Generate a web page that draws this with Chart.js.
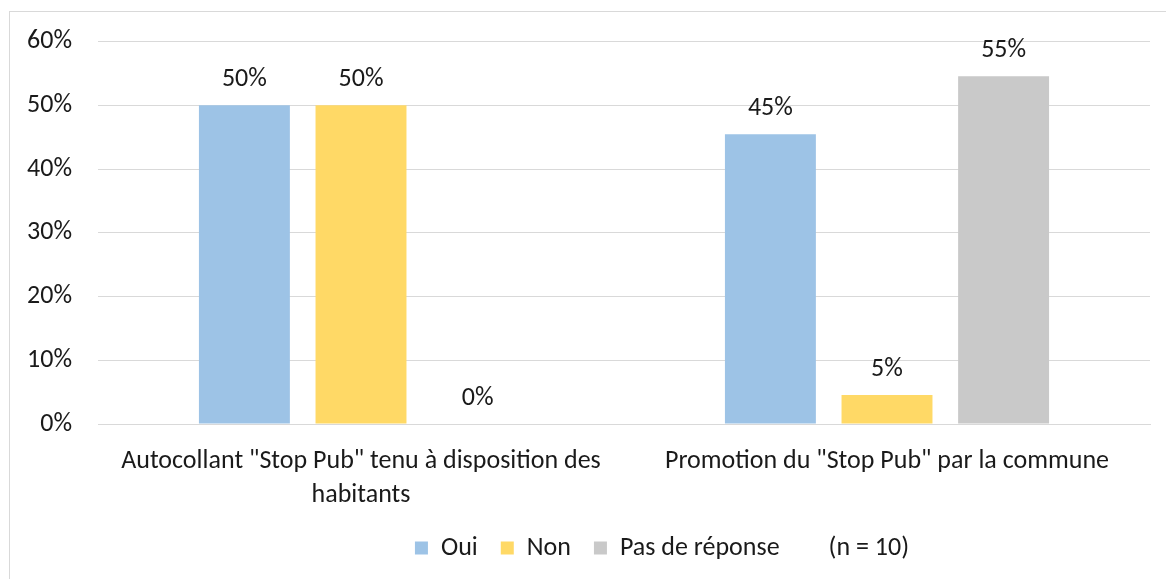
<!DOCTYPE html>
<html lang="fr">
<head>
<meta charset="utf-8">
<title>Stop Pub</title>
<script src="https://cdn.jsdelivr.net/npm/chart.js@4.4.1/dist/chart.umd.min.js"></script>
<style>
    html, body { margin: 0; padding: 0; background: #fff; overflow: hidden; }
    #frame {
        position: absolute; left: 9px; top: 11px; width: 1300px; height: 700px;
        border-left: 1px solid #d9d9d9; border-top: 1px solid #d9d9d9;
    }
    #wrap { position: absolute; left: 0; top: 0; width: 1166px; height: 579px; }
</style>
</head>
<body>
<div id="frame"></div>
<div id="wrap"><canvas id="chart"></canvas></div>
<script>
// values (percent)
const categories = [
    ['Autocollant "Stop Pub" tenu à disposition des', 'habitants'],
    'Promotion du "Stop Pub" par la commune'
];
const seriesNames = ['Oui', 'Non', 'Pas de réponse'];
const oui = [50, 45.45];
const non = [50, 4.55];
const pasDeReponse = [0, 54.55];
const colors = ['#9dc3e6', '#ffd966', '#c9c9c9'];
const yTicks = [0, 10, 20, 30, 40, 50, 60];
const sampleNote = '(n = 10)';

const FONT = 'Calibri, Carlito, "Open Sans", sans-serif';
const FONT_SIZE = 26;

// draws "50%" style labels above each bar
const barLabels = {
    id: 'barLabels',
    afterDatasetsDraw(chart) {
        const ctx = chart.ctx;
        ctx.save();
        ctx.font = FONT_SIZE + 'px ' + FONT;
        ctx.fillStyle = '#1a1a1a';
        ctx.textAlign = 'center';
        ctx.textBaseline = 'middle';
        chart.data.datasets.forEach((ds, i) => {
            const meta = chart.getDatasetMeta(i);
            meta.data.forEach((bar, j) => {
                ctx.fillText(Math.round(ds.data[j]) + '%', bar.x, bar.y - 26);
            });
        });
        ctx.restore();
    }
};

// the legend sits right of centre in the original
const legendShift = {
    id: 'legendShift',
    afterLayout(chart) {
        chart.legend.left += 87;
        chart.legend.right += 87;
    }
};

const seriesValues = [oui, non, pasDeReponse];

new Chart(document.getElementById('chart'), {
    type: 'bar',
    data: {
        labels: categories,
        datasets: seriesNames.map((name, i) => ({
            label: name,
            data: seriesValues[i],
            backgroundColor: colors[i],
            borderWidth: 0,
            categoryPercentage: 0.665,
            barPercentage: 0.78
        }))
    },
    options: {
        responsive: true,
        maintainAspectRatio: false,
        animation: false,
        layout: { padding: { left: 0, right: 16, top: 32, bottom: 8 } },
        scales: {
            x: {
                grid: { display: false },
                border: { color: '#d9d9d9', width: 1 },
                ticks: { color: '#1a1a1a', font: { family: FONT, size: FONT_SIZE, lineHeight: 1.31 }, padding: 12, maxRotation: 0 },
                afterFit(scale) { scale.height = 88; }
            },
            y: {
                min: 0, max: 60,
                afterBuildTicks(scale) { scale.ticks = yTicks.map(v => ({ value: v })); },
                grid: { color: '#d9d9d9', drawTicks: false },
                border: { display: false },
                ticks: {
                    color: '#1a1a1a', font: { family: FONT, size: FONT_SIZE }, padding: 26,
                    callback: v => v + '%'
                },
                afterFit(scale) { scale.width = 98; }
            }
        },
        plugins: {
            tooltip: { enabled: false },
            legend: {
                position: 'bottom',
                labels: {
                    color: '#1a1a1a',
                    font: { family: FONT, size: FONT_SIZE },
                    boxWidth: 13, boxHeight: 13, padding: 23,
                    generateLabels(chart) {
                        const items = Chart.defaults.plugins.legend.labels.generateLabels(chart);
                        items.push({ text: sampleNote, fillStyle: 'rgba(0,0,0,0)', strokeStyle: 'rgba(0,0,0,0)', lineWidth: 0, hidden: false, datasetIndex: -1 });
                        return items;
                    }
                }
            }
        }
    },
    plugins: [barLabels, legendShift]
});
</script>
</body>
</html>
